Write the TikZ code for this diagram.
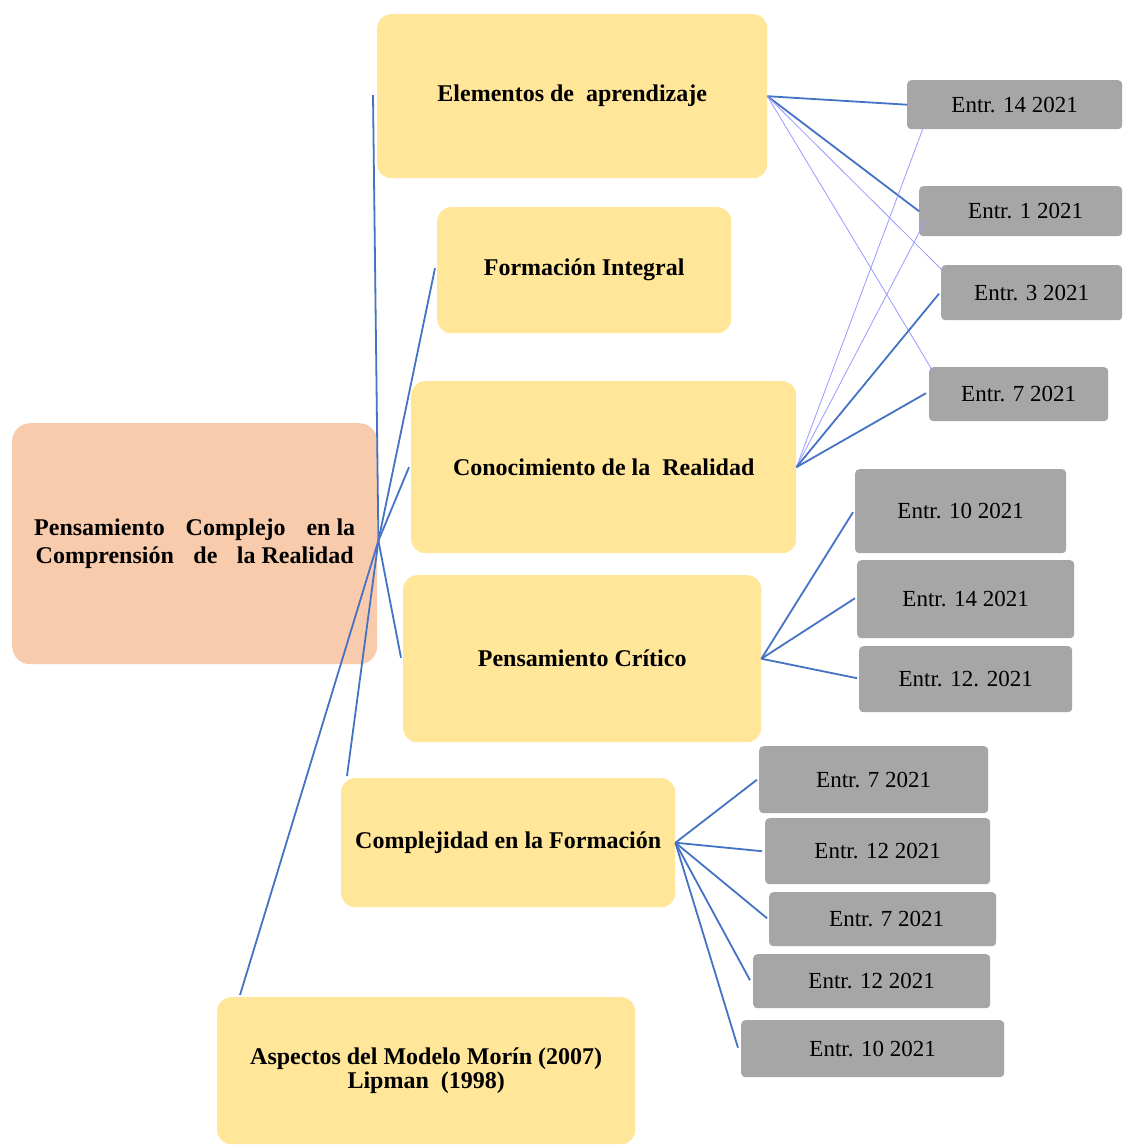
\documentclass[tikz,border=0pt]{standalone}
\usepackage{fontspec}
\setmainfont{Liberation Serif}
\usetikzlibrary{calc}
\definecolor{peach}{HTML}{F8CBAD}
\definecolor{yel}{HTML}{FFE699}
\definecolor{gry}{HTML}{A6A6A6}
\definecolor{lblue}{HTML}{4472C4}
\definecolor{lpurp}{HTML}{9A9AFF}
\newcommand\myyfont{\fontsize{24}{28}\selectfont\bfseries}
\newcommand\myafont{\fontsize{24}{24}\selectfont\bfseries}
\newcommand\mygfont{\fontsize{23}{27}\selectfont}
\begin{document}
\begin{tikzpicture}[x=1pt,y=-1pt,
  ybox/.style={fill=yel, rounded corners=14pt, anchor=north west, inner sep=0pt, align=center,
    font=\myyfont},
  pbox/.style={ybox, fill=peach, rounded corners=18pt},
  gbox/.style={fill=gry, rounded corners=4pt, anchor=north west, inner sep=0pt, align=center,
    font=\mygfont},
  thk/.style={draw=lblue, line width=1.8pt},
  thn/.style={draw=lpurp, line width=0.8pt}]
\useasboundingbox (0,0) rectangle (1122,1146);
\fill[white] (0,0) rectangle (1122,1146);

% main and category boxes
\node[pbox, minimum width=365pt, minimum height=241pt] (main) at (12,423)
  {\hbox to 321pt{Pensamiento \hfill Complejo \hfill en la}\\\hbox to 318pt{Comprensión \hfill de \hfill la Realidad}};
\node[ybox, minimum width=390pt, minimum height=164pt] (elem) at (377,14) {Elementos de\ \ aprendizaje};
\node[ybox, minimum width=294pt, minimum height=126pt] (form) at (437,207) {Formación Integral};
\node[ybox, minimum width=385pt, minimum height=172pt] (con) at (411,381) {Conocimiento de la\ \ Realidad};
\node[ybox, minimum width=358pt, minimum height=167pt] (pc) at (403,575) {Pensamiento Crítico};
\node[ybox, minimum width=334pt, minimum height=129pt] (comp) at (341,778) {Complejidad en la Formación};
\node[ybox, minimum width=418pt, minimum height=147pt, font=\myafont] (asp) at (217,997)
  {Aspectos del Modelo Morín (2007)\\Lipman\ \ (1998)};

% interview boxes
\node[gbox, minimum width=215pt, minimum height=49pt] (g1) at (907,80) {Entr. 14 2021};
\node[gbox, minimum width=203pt, minimum height=50pt] (g2) at (919,186) {\hspace*{10pt}Entr. 1 2021};
\node[gbox, minimum width=181pt, minimum height=55pt] (g3) at (941,265) {Entr. 3 2021};
\node[gbox, minimum width=179pt, minimum height=54pt] (g4) at (929,367) {Entr. 7 2021};
\node[gbox, minimum width=211pt, minimum height=84pt] (g5) at (855,469) {Entr. 10 2021};
\node[gbox, minimum width=217pt, minimum height=78pt] (g6) at (857,560) {Entr. 14 2021};
\node[gbox, minimum width=213pt, minimum height=66pt] (g7) at (859,646) {Entr. 12. 2021};
\node[gbox, minimum width=229pt, minimum height=67pt] (h1) at (759,746) {Entr. 7 2021};
\node[gbox, minimum width=225pt, minimum height=66pt] (h2) at (765,818) {Entr. 12 2021};
\node[gbox, minimum width=227pt, minimum height=54pt] (h3) at (769,892) {\hspace*{8pt}Entr. 7 2021};
\node[gbox, minimum width=237pt, minimum height=54pt] (h4) at (753,954) {Entr. 12 2021};
\node[gbox, minimum width=263pt, minimum height=57pt] (h5) at (741,1020) {Entr. 10 2021};

% connectors from the central box
\coordinate (hub) at ($(main.east)+(1,-3)$);
\draw[thk] (hub) -- ($(elem.west)+(-4,-1)$);
\draw[thk] (hub) -- ($(form.west)+(-2,-2)$);
\draw[thk] (hub) -- ($(con.west)+(-2,0)$);
\draw[thk] (hub) -- ($(pc.west)+(-2,-1)$);
\draw[thk] (hub) -- ($(comp.north west)+(6,-2)$);
\draw[thk] (hub) -- ($(asp.north west)+(23,-2)$);

% Elementos de aprendizaje
\draw[thk] (elem.east) -- (g1.west);
\draw[thk] (elem.east) -- (g2.west);
\draw[thn] (elem.east) -- ($(g3.north west)+(1,5)$);
\draw[thn] (elem.east) -- ($(g4.north west)+(5,6)$);

% Conocimiento de la Realidad
\draw[thn] (con.east) -- ($(g1.south west)+(16,-1)$);
\draw[thn] (con.east) -- ($(g2.south west)+(6,-15)$);
\draw[thk] (con.east) -- ($(g3.west)+(-2,1)$);
\draw[thk] (con.east) -- ($(g4.west)+(-3,-1)$);

% Pensamiento Critico
\draw[thk] (pc.east) -- ($(g5.west)+(-2,1)$);
\draw[thk] (pc.east) -- ($(g6.west)+(-2,-1)$);
\draw[thk] (pc.east) -- ($(g7.west)+(-2,-1)$);

% Complejidad en la Formacion
\draw[thk] (comp.east) -- ($(h1.west)+(-2,0)$);
\draw[thk] (comp.east) -- ($(h2.west)+(-3,0)$);
\draw[thk] (comp.east) -- ($(h3.west)+(-2,-1)$);
\draw[thk] (comp.east) -- ($(h4.west)+(-3,-1)$);
\draw[thk] (comp.east) -- ($(h5.west)+(-3,-1)$);
\end{tikzpicture}
\end{document}
